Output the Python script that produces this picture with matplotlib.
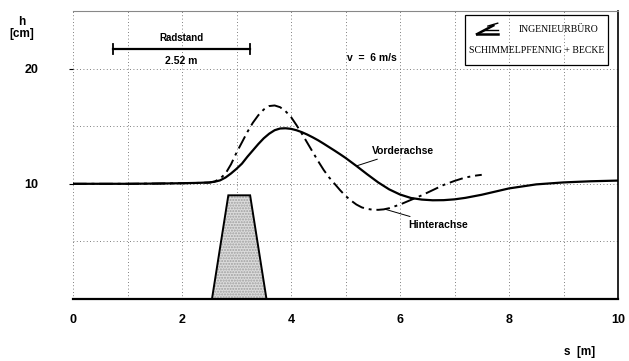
import matplotlib
matplotlib.use("Agg")
import matplotlib.pyplot as plt
from matplotlib.patches import Rectangle

# ---- data ----
s_front = [0.0, 0.5, 1.0, 1.5, 2.0, 2.3, 2.5, 2.6, 2.7, 2.8, 2.9, 3.0, 3.1, 3.2, 3.3, 3.4,
           3.5, 3.6, 3.7, 3.8, 3.9, 4.0, 4.1, 4.2, 4.3, 4.4, 4.5, 4.6, 4.7, 4.8, 4.9, 5.0,
           5.2, 5.4, 5.6, 5.8, 6.0, 6.2, 6.4, 6.6, 6.8, 7.0, 7.2, 7.5, 8.0, 8.5, 9.0, 9.5, 10.0]
h_front = [10.0, 10.0, 10.0, 10.02, 10.05, 10.08, 10.12, 10.18, 10.3, 10.55, 10.9, 11.3, 11.75,
           12.35, 12.9, 13.45, 13.95, 14.35, 14.65, 14.8, 14.82, 14.77, 14.65, 14.48, 14.27,
           14.03, 13.77, 13.48, 13.18, 12.88, 12.57, 12.25, 11.55, 10.82, 10.12, 9.52, 9.07,
           8.77, 8.63, 8.57, 8.58, 8.65, 8.78, 9.05, 9.6, 9.95, 10.12, 10.22, 10.28]

s_rear = [0.0, 0.5, 1.0, 1.5, 2.0, 2.5, 2.6, 2.7, 2.8, 2.9, 3.0, 3.1, 3.2, 3.3, 3.4, 3.5,
          3.6, 3.7, 3.8, 3.9, 4.0, 4.1, 4.2, 4.3, 4.4, 4.5, 4.6, 4.7, 4.8, 4.9, 5.0, 5.1,
          5.2, 5.3, 5.4, 5.5, 5.6, 5.7, 5.8, 6.0, 6.2, 6.4, 6.6, 6.8, 7.0, 7.2, 7.4, 7.5]
h_rear = [10.0, 10.0, 10.0, 10.02, 10.05, 10.1, 10.2, 10.45, 10.9, 11.7, 12.7, 13.6, 14.5,
          15.3, 15.95, 16.45, 16.75, 16.8, 16.65, 16.3, 15.8, 15.1, 14.35, 13.55, 12.75,
          11.95, 11.2, 10.55, 10.0, 9.45, 8.95, 8.55, 8.2, 7.95, 7.82, 7.75, 7.74, 7.78,
          7.88, 8.2, 8.6, 9.0, 9.45, 9.9, 10.25, 10.55, 10.72, 10.78]

bump_s = [2.55, 2.85, 3.25, 3.55]
bump_h = [0.0, 9.0, 9.0, 0.0]

wheelbase_start = 0.73
wheelbase = 2.52
xtick_vals = [0, 2, 4, 6, 8, 10]
ytick_vals = [10, 20]

# ---- figure ----
fig = plt.figure(figsize=(6.29, 3.61), dpi=100)
ax = fig.add_axes([73/629, 62/361, 545/629, 288/361])
ax.set_xlim(0, 10)
ax.set_ylim(0, 25)

# grid
for gx in range(0, 10):
    ax.axvline(gx, color='#555555', lw=0.6, ls=(0, (1, 3)), zorder=0)
for gy in [5, 10, 15, 20]:
    ax.axhline(gy, color='#555555', lw=0.6, ls=(0, (1, 3)), zorder=0)

# bump
ax.fill(bump_s, bump_h, facecolor='#dcdcdc', edgecolor='#a0a0a0', lw=0,
        hatch='......', zorder=2)
ax.fill(bump_s, bump_h, facecolor='none', edgecolor='black', lw=1.4, zorder=2.5)
ax.plot([0, 10], [0, 0], color='black', lw=1.6, zorder=3, clip_on=False)

# curves
ax.plot(s_front, h_front, color='black', lw=1.6, zorder=4)
ax.plot(s_rear, h_rear, color='black', lw=1.4, ls=(0, (7, 2.5, 1.5, 2.5)), zorder=4)

# wheelbase bar
wb_y = 21.7
ax.plot([wheelbase_start, wheelbase_start + wheelbase], [wb_y, wb_y], color='black', lw=1.6)
ax.plot([wheelbase_start] * 2, [wb_y - 0.45, wb_y + 0.45], color='black', lw=1.3)
ax.plot([wheelbase_start + wheelbase] * 2, [wb_y - 0.45, wb_y + 0.45], color='black', lw=1.3)
ax.text(wheelbase_start + wheelbase / 2, wb_y + 0.55, 'Radstand', ha='center', va='bottom',
        fontsize=7, fontweight='bold', family='Liberation Sans')
ax.text(wheelbase_start + wheelbase / 2, wb_y - 0.6, f'{wheelbase:.2f} m', ha='center', va='top',
        fontsize=7.5, fontweight='bold', family='Liberation Sans')

ax.text(5.03, 20.9, 'v  =  6 m/s', ha='left', va='center', fontsize=7.5,
        fontweight='bold', family='Liberation Sans')

# curve labels with leaders
ax.annotate('Vorderachse', xy=(5.2, 11.55), xytext=(5.48, 12.85), ha='left', va='center',
            fontsize=7.5, fontweight='bold', family='Liberation Sans',
            arrowprops=dict(arrowstyle='-', color='black', lw=0.7, shrinkB=0, shrinkA=1))
ax.annotate('Hinterachse', xy=(5.75, 7.76), xytext=(6.15, 6.45), ha='left', va='center',
            fontsize=7.5, fontweight='bold', family='Liberation Sans',
            arrowprops=dict(arrowstyle='-', color='black', lw=0.7, shrinkB=0, shrinkA=1))

# logo box
bx0, by0 = (465 - 73) / 54.5, (299 - 65) / 11.5
bw, bh = (608 - 465) / 54.5, 50 / 11.5
ax.add_patch(Rectangle((bx0, by0), bw, bh, fill=False, edgecolor='black', lw=0.9, zorder=5))
ax.text(bx0 + bw - 0.17, by0 + bh * 0.7, 'INGENIEURBÜRO', ha='right', va='center',
        fontsize=7, family='Liberation Serif')
ax.text(bx0 + bw / 2, by0 + bh * 0.28, 'SCHIMMELPFENNIG + BECKE', ha='center', va='center',
        fontsize=7, family='Liberation Serif')
# small logo glyph
lx, ly = bx0 + 0.22, by0 + bh * 0.7
ax.plot([lx, lx + 0.38], [ly - 0.4, ly - 0.4], color='black', lw=1.8)
ax.plot([lx, lx + 0.3], [ly - 0.4, ly + 0.35], color='black', lw=1.8)
ax.plot([lx + 0.12, lx + 0.38], [ly - 0.05, ly - 0.05], color='black', lw=1.0)
ax.plot([lx + 0.2, lx + 0.38], [ly + 0.3, ly + 0.55], color='black', lw=1.0)

# spines / ticks
ax.spines['top'].set_color('#888888')
ax.spines['top'].set_linewidth(0.8)
ax.spines['left'].set_visible(False)
ax.spines['bottom'].set_visible(False)
ax.spines['right'].set_linewidth(1.2)

ax.set_xticks(xtick_vals)
ax.set_xticklabels([str(v) for v in xtick_vals], fontsize=9, fontweight='bold',
                   family='Liberation Sans')
ax.tick_params(axis='x', length=0, pad=11)
ax.set_yticks(ytick_vals)
ax.set_yticklabels([str(v) for v in ytick_vals], fontsize=9, fontweight='bold',
                   family='Liberation Sans')
ax.tick_params(axis='y', length=3, pad=22)

fig.text(22 / 629, 1 - 28 / 361, 'h\n[cm]', ha='center', va='center', fontsize=8.5,
         fontweight='bold', family='Liberation Sans', linespacing=1.0)
fig.text(580 / 629, 1 - 352 / 361, 's  [m]', ha='center', va='center', fontsize=8.5,
         fontweight='bold', family='Liberation Sans')

fig.savefig('out.png', dpi=100)
